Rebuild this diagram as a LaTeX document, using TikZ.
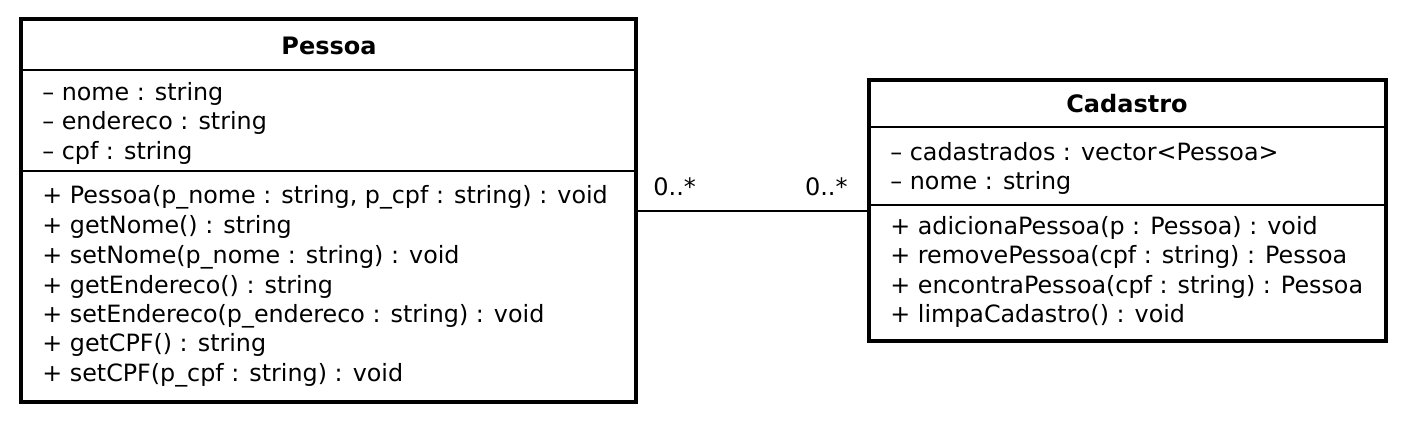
\documentclass[tikz,border=0pt]{standalone}
\usepackage{fontspec}
\setmainfont{DejaVu Sans}
\begin{document}
\begin{tikzpicture}[x=0.5pt,y=-0.5pt,
  classbox/.style={draw=black,line width=1.8pt,rectangle,inner sep=0pt},
  sepline/.style={draw=black,line width=0.9pt},
  member/.style={anchor=base west,inner sep=0pt,font=\fontsize{11.9}{14}\selectfont},
  title/.style={anchor=base,inner sep=0pt,font=\fontsize{12}{14}\selectfont\bfseries},
  mult/.style={inner sep=0pt,font=\fontsize{12}{14}\selectfont},
  assoc/.style={draw=black,line width=1pt}]
\useasboundingbox (0,0) rectangle (1408,420);
% Pessoa
\node[classbox,minimum width=307.5pt,minimum height=191.5pt] (pessoa) at (328.5,210.5) {};
\coordinate (p1l) at (21,70); \coordinate (p1r) at (636,70);
\coordinate (p2l) at (21,171); \coordinate (p2r) at (636,171);
\draw[sepline] (p1l) -- (p1r);
\draw[sepline] (p2l) -- (p2r);
\node[title] (pt) at (329,54) {Pessoa};
\node[member] (pa1) at (42,100) {– nome : string};
\node[member] (pa2) at (42,129) {– endereco : string};
\node[member] (pa3) at (42,159) {– cpf : string};
\node[member] (pm1) at (42,203) {+ Pessoa(p\_nome : string, p\_cpf : string) : void};
\node[member] (pm2) at (42,233) {+ getNome() : string};
\node[member] (pm3) at (42,263) {+ setNome(p\_nome : string) : void};
\node[member] (pm4) at (42,293) {+ getEndereco() : string};
\node[member] (pm5) at (42,322) {+ setEndereco(p\_endereco : string) : void};
\node[member] (pm6) at (42,351) {+ getCPF() : string};
\node[member] (pm7) at (42,381) {+ setCPF(p\_cpf : string) : void};
% Cadastro
\node[classbox,minimum width=258.5pt,minimum height=130.5pt] (cadastro) at (1127.5,210.5) {};
\coordinate (c1l) at (869,127); \coordinate (c1r) at (1386,127);
\coordinate (c2l) at (869,205); \coordinate (c2r) at (1386,205);
\draw[sepline] (c1l) -- (c1r);
\draw[sepline] (c2l) -- (c2r);
\node[title] (ct) at (1127,112) {Cadastro};
\node[member] (ca1) at (890,160) {– cadastrados : vector<Pessoa>};
\node[member] (ca2) at (890,189) {– nome : string};
\node[member] (cm1) at (890,234) {+ adicionaPessoa(p : Pessoa) : void};
\node[member] (cm2) at (890,263) {+ removePessoa(cpf : string) : Pessoa};
\node[member] (cm3) at (890,293) {+ encontraPessoa(cpf : string) : Pessoa};
\node[member] (cm4) at (890,322) {+ limpaCadastro() : void};
% association
\draw[assoc] (pessoa.east) -- (cadastro.west);
\node[mult,anchor=base west] (m1) at (653,195) {0..*};
\node[mult,anchor=base east] (m2) at (848,195) {0..*};
\end{tikzpicture}
\end{document}
